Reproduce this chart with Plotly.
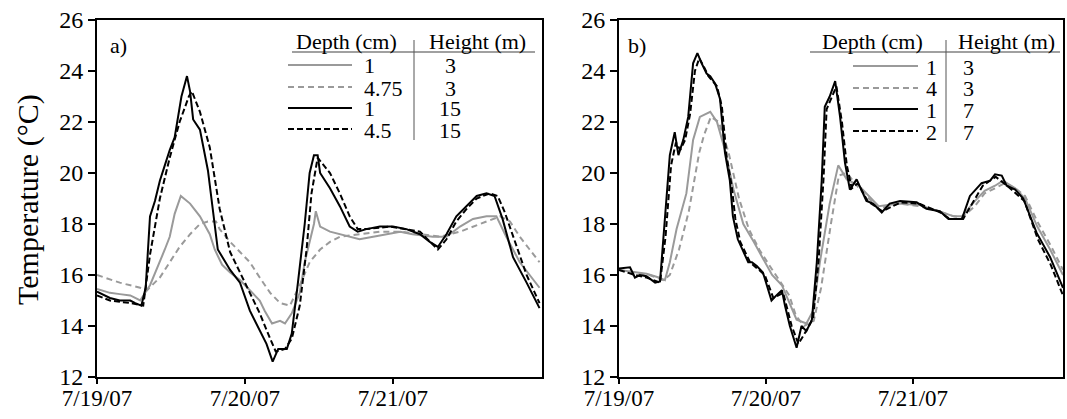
import plotly.graph_objects as go

FONT = "Liberation Serif"
GRAY = "#9a9a9a"
BLACK = "#000000"

# ---------------- Panel a) (hours since 7/19/07 00:00, temperature in °C) ----------------
# Depth 1 cm, height 3 m (gray solid)
a1_t = [0, 2.1, 3.7, 5.4, 6.2, 7.0, 8.6, 10.2, 11.0, 11.8, 12.6, 13.6, 15.1, 16.7, 18.3, 19.1,
        20.3, 21.6, 23.2, 24.8, 26.4, 27.2, 28.4, 29.7, 30.5, 31.6, 32.9, 33.7, 34.5, 35.2, 35.5,
        36.2, 37.8, 39.4, 41.0, 42.6, 44.8, 47.0, 49.2, 51.2, 54.5, 56.7, 58.9, 61.0, 63.2, 64.8,
        66.4, 68.6, 71.8]
a1_T = [15.45, 15.3, 15.25, 15.2, 15.1, 15.0, 15.6, 16.5, 17.0, 17.5, 18.4, 19.1, 18.8, 18.3, 17.6, 17.0,
        16.4, 16.1, 15.8, 15.4, 15.0, 14.6, 14.1, 14.2, 14.1, 14.5, 15.3, 16.5, 17.3, 18.0, 18.5,
        17.9, 17.7, 17.6, 17.5, 17.4, 17.5, 17.6, 17.7, 17.6, 17.5, 17.5, 17.9, 18.2, 18.3, 18.3,
        17.5, 16.5, 15.5]

# Depth 4.75 cm, height 3 m (gray dashed)
a2_t = [0, 3.7, 7.0, 8.1, 10.2, 11.8, 13.4, 15.1, 16.7, 18.0, 19.3, 19.9, 21.6, 23.2, 24.8, 26.4,
        28.1, 29.7, 31.3, 32.9, 34.5, 36.2, 37.8, 39.4, 42.6, 45.9, 49.2, 52.4, 55.7, 58.9, 62.1,
        65.4, 67.0, 68.6, 70.2, 71.8]
a2_T = [16.0, 15.7, 15.5, 15.4, 15.9, 16.5, 17.1, 17.6, 18.0, 18.1, 18.1, 17.8, 17.3, 16.9, 16.5, 15.9,
        15.3, 14.9, 14.8, 15.6, 16.5, 17.0, 17.3, 17.5, 17.6, 17.7, 17.7, 17.6, 17.5, 17.7, 18.0,
        18.3, 18.1, 17.5, 17.0, 16.5]

# Depth 1 cm, height 15 m (black solid)
a3_t = [0, 2.1, 3.7, 5.4, 6.2, 7.2, 7.9, 8.6, 9.4, 10.2, 11.0, 11.8, 12.6, 13.7, 14.6, 15.1, 15.6,
        16.7, 18.0, 18.8, 19.6, 21.6, 23.2, 24.8, 26.4, 27.5, 28.5, 29.4, 30.8, 31.6, 32.6, 33.7,
        34.5, 35.2, 35.8, 36.2, 37.8, 39.4, 41.0, 42.3, 43.7, 45.9, 48.0, 50.2, 52.4, 54.0, 55.3,
        56.7, 58.3, 60.0, 61.6, 63.2, 64.5, 65.8, 67.5, 69.7, 71.8]
a3_T = [15.35, 15.1, 15.0, 15.0, 14.9, 14.8, 15.5, 18.3, 18.9, 19.7, 20.3, 20.9, 21.4, 23.0, 23.8, 23.2, 22.1,
        21.7, 20.1, 18.5, 17.0, 16.2, 15.7, 14.6, 13.8, 13.3, 12.6, 13.1, 13.1, 13.7, 15.7, 18.0,
        20.0, 20.7, 20.7, 20.0, 19.4, 18.7, 17.9, 17.7, 17.8, 17.9, 17.9, 17.8, 17.6, 17.3, 17.1,
        17.6, 18.3, 18.7, 19.1, 19.2, 19.1, 18.2, 16.7, 15.7, 14.7]

# Depth 4.5 cm, height 15 m (black dashed)
a4_t = [0, 2.1, 3.7, 5.4, 7.5, 8.6, 10.2, 11.8, 13.4, 14.9, 15.4, 16.7, 18.3, 19.9, 21.6, 23.2,
        24.8, 26.4, 28.1, 29.0, 30.5, 31.6, 32.9, 34.0, 34.8, 35.8, 37.8, 39.4, 41.0, 42.3, 43.7,
        47.6, 52.4, 54.0, 55.3, 56.7, 58.3, 60.0, 61.6, 63.7, 65.0, 66.1, 67.8, 69.7, 71.8]
a4_T = [15.2, 15.0, 14.95, 14.9, 14.8, 16.8, 19.0, 20.6, 22.0, 23.0, 23.2, 22.4, 21.0, 18.6, 16.9, 16.1,
        15.3, 14.5, 13.5, 13.0, 13.1, 13.5, 14.8, 17.0, 19.2, 20.6, 20.0, 19.2, 18.3, 17.8, 17.8,
        17.9, 17.7, 17.3, 17.0, 17.4, 18.1, 18.6, 19.0, 19.2, 19.1, 18.5, 17.3, 16.0, 14.9]

# ---------------- Panel b) ----------------
# Depth 1 cm, height 3 m (gray solid)
b1_t = [0, 2.6, 4.5, 6.5, 7.5, 8.3, 9.4, 11.0, 12.1, 13.2, 14.9, 16.0, 17.3, 18.7, 20.3, 22.0,
        23.6, 25.0, 26.6, 27.9, 29.0, 30.6, 31.7, 32.8, 34.4, 35.8, 37.2, 39.2, 42.4, 45.7, 49.0,
        52.2, 54.7, 56.0, 58.1, 59.7, 61.4, 62.7, 64.7, 66.3, 68.3, 70.4, 72.5]
b1_T = [16.2, 16.1, 16.05, 15.9, 15.8, 16.5, 17.8, 19.2, 21.3, 22.2, 22.4, 22.0, 20.9, 19.35, 18.0, 17.3,
        16.6, 16.0, 15.6, 14.9, 14.25, 14.1, 14.6, 16.5, 18.8, 20.3, 19.75, 19.5, 18.7, 18.8, 18.75,
        18.5, 18.3, 18.3, 18.9, 19.3, 19.5, 19.7, 19.4, 19.0, 17.9, 17.0, 16.0]

# Depth 4 cm, height 3 m (gray dashed)
b2_t = [0, 2.6, 5.0, 7.2, 8.3, 9.8, 11.4, 13.1, 13.9, 15.0, 16.3, 17.9, 19.6, 21.2, 22.9, 24.5,
        26.1, 27.8, 28.9, 30.2, 31.8, 33.0, 34.6, 35.9, 37.2, 39.2, 42.4, 45.7, 49.0, 52.2, 54.7,
        56.0, 58.1, 59.7, 61.4, 63.0, 64.7, 66.3, 68.3, 70.4, 72.5]
b2_T = [16.2, 16.1, 16.0, 15.8, 16.0, 17.0, 18.5, 20.8, 21.5, 22.2, 22.0, 20.8, 19.0, 17.8, 17.0, 16.4,
        15.8, 15.2, 14.4, 14.0, 14.2, 15.5, 18.0, 19.9, 20.0, 19.4, 18.6, 18.8, 18.7, 18.5, 18.3,
        18.25, 18.7, 19.2, 19.4, 19.6, 19.4, 19.1, 18.1, 17.2, 16.2]

# Depth 1 cm, height 7 m (black solid)
b3_t = [0, 1.3, 1.8, 2.6, 3.4, 4.5, 5.9, 6.7, 7.5, 8.3, 9.1, 9.7, 10.5, 11.3, 12.1, 12.8, 13.5,
        14.3, 14.9, 15.7, 16.5, 17.3, 18.1, 18.6, 19.4, 20.2, 21.1, 21.7, 22.5, 23.5, 24.1, 24.9,
        25.7, 26.6, 27.1, 27.9, 29.0, 29.8, 30.6, 31.5, 32.3, 33.1, 33.6, 34.4, 35.3, 36.1, 36.9,
        37.7, 38.8, 40.4, 41.5, 42.9, 44.2, 45.9, 48.6, 50.2, 52.4, 53.8, 56.0, 57.3, 59.2, 60.6,
        61.4, 62.5, 63.3, 64.7, 66.0, 68.2, 70.4, 72.5]
b3_T = [16.25, 16.3, 16.3, 15.9, 16.0, 15.95, 15.7, 15.75, 18.05, 20.7, 21.6, 20.7, 21.3, 22.2, 24.3, 24.7, 24.3,
        23.9, 23.8, 23.5, 22.9, 20.8, 19.7, 18.3, 17.4, 17.0, 16.5, 16.5, 16.35, 16.1, 15.6, 15.0,
        15.2, 15.4, 14.8, 14.0, 13.15, 14.0, 13.8, 14.25, 16.5, 19.7, 22.6, 23.0, 23.6, 22.2, 20.4,
        19.35, 19.75, 18.9, 18.8, 18.45, 18.8, 18.9, 18.85, 18.6, 18.5, 18.2, 18.2, 19.1, 19.6, 19.7,
        19.95, 19.9, 19.5, 19.35, 19.0, 17.65, 16.7, 15.5]

# Depth 2 cm, height 7 m (black dashed)
b4_t = [0, 2.6, 4.5, 6.7, 7.6, 8.5, 9.3, 10.0, 10.8, 11.6, 12.4, 13.1, 13.8, 14.6, 16.0, 16.8,
        17.6, 18.4, 19.0, 19.8, 21.4, 23.8, 25.2, 26.8, 28.2, 29.3, 30.8, 31.7, 32.6, 33.4, 33.9,
        35.5, 36.4, 37.2, 38.0, 39.0, 40.6, 43.0, 46.0, 49.0, 52.5, 54.0, 56.2, 59.4, 61.5, 63.4,
        66.2, 68.4, 70.5, 72.5]
b4_T = [16.2, 16.0, 15.9, 15.7, 17.5, 20.3, 21.2, 20.9, 21.3, 22.3, 24.0, 24.5, 24.2, 23.8, 23.4, 22.6,
        20.6, 19.5, 18.2, 17.3, 16.5, 16.0, 15.1, 15.3, 14.0, 13.3, 13.9, 14.3, 16.6, 19.8, 22.5,
        23.4, 22.0, 20.3, 19.4, 19.6, 18.9, 18.5, 18.85, 18.8, 18.45, 18.2, 18.2, 19.5, 19.85, 19.5,
        18.9, 17.4, 16.4, 15.2]

# Legend table contents
depth_a = ["1", "4.75", "1", "4.5"]
height_a = ["3", "3", "15", "15"]
depth_b = ["1", "4", "1", "2"]
height_b = ["3", "3", "7", "7"]
x_tickvals = [0, 24, 48]
x_ticktext = ["7/19/07", "7/20/07", "7/21/07"]
y_tickvals = [12, 14, 16, 18, 20, 22, 24, 26]

styles = [(GRAY, "solid"), (GRAY, "6px,4px"), (BLACK, "solid"), (BLACK, "6px,3px")]

W, H = 1067, 419
def px(x):
    return x / W
def py(y):
    return 1 - y / H

fig = go.Figure()
for (t, T), (c, d) in zip([(a1_t, a1_T), (a2_t, a2_T), (a3_t, a3_T), (a4_t, a4_T)], styles):
    fig.add_trace(go.Scatter(x=t, y=T, mode="lines", line=dict(color=c, width=2, dash=d),
                             xaxis="x", yaxis="y", showlegend=False))
for (t, T), (c, d) in zip([(b1_t, b1_T), (b2_t, b2_T), (b3_t, b3_T), (b4_t, b4_T)], styles):
    fig.add_trace(go.Scatter(x=t, y=T, mode="lines", line=dict(color=c, width=2, dash=d),
                             xaxis="x2", yaxis="y2", showlegend=False))

xcommon = dict(tickvals=x_tickvals, ticktext=x_ticktext, ticks="outside", ticklen=5, tickwidth=1.5,
               tickcolor="black", showline=True, linecolor="black", linewidth=2, mirror=True,
               showgrid=False, zeroline=False, automargin=False, ticklabelstandoff=-6,
               tickfont=dict(family=FONT, size=23, color="black"))
ycommon = dict(range=[12, 26], tickvals=y_tickvals, ticks="outside", ticklen=7, tickwidth=1.5,
               tickcolor="black", showline=True, linecolor="black", linewidth=2, mirror=True,
               showgrid=False, zeroline=False, automargin=False,
               tickfont=dict(family=FONT, size=24, color="black"))

fig.update_layout(
    template="none",
    width=W, height=H, autosize=False,
    margin=dict(l=0, r=0, t=0, b=0, pad=0),
    paper_bgcolor="white", plot_bgcolor="white",
    xaxis=dict(domain=[px(97), px(542)], range=[0, 72.2], anchor="y", **xcommon),
    yaxis=dict(domain=[py(377), py(20)], anchor="x", **ycommon),
    xaxis2=dict(domain=[px(619), px(1063)], range=[0, 72.5], anchor="y2", **xcommon),
    yaxis2=dict(domain=[py(377), py(20)], anchor="x2", **ycommon),
)

ann = []
shapes = []
tf = dict(family=FONT, size=22, color="black")

def text(s, x, y, xa="center", font=tf, **kw):
    ann.append(dict(text=s, x=px(x), y=py(y), xref="paper", yref="paper", xanchor=xa,
                    yanchor="middle", showarrow=False, font=font, borderpad=0, **kw))

# Y title
text("Temperature (°C)", 28, 200, font=dict(family=FONT, size=30, color="black"), textangle=-90)
# panel labels
text("a)", 109, 45, xa="left")
text("b)", 627, 45, xa="left")

def table(hdr_depth_x, hdr_height_x, rule_x0, rule_x1, vline_x, line_x0, line_x1,
          depth_x, depth_anchor, height_x, rows_y, depths, heights):
    text("Depth (cm)", hdr_depth_x, 41)
    text("Height (m)", hdr_height_x, 41)
    shapes.append(dict(type="line", xref="paper", yref="paper", x0=px(rule_x0), x1=px(rule_x1),
                       y0=py(52), y1=py(52), line=dict(color="#808080", width=1.5)))
    shapes.append(dict(type="line", xref="paper", yref="paper", x0=px(vline_x), x1=px(vline_x),
                       y0=py(40), y1=py(rows_y[-1] + 11), line=dict(color="#555555", width=1)))
    for (c, d), yy, dep, hei in zip(styles, rows_y, depths, heights):
        shapes.append(dict(type="line", xref="paper", yref="paper", x0=px(line_x0), x1=px(line_x1),
                           y0=py(yy), y1=py(yy), line=dict(color=c, width=2, dash=d)))
        text(dep, depth_x, yy + 1, xa=depth_anchor)
        text(hei, height_x, yy + 1)

table(346, 477, 292, 535, 414, 288, 352, 363, "left", 450, [65, 87, 108, 129], depth_a, height_a)
table(872, 1006, 810, 1060, 946, 853, 918, 938, "right", 968, [66, 88, 109, 131], depth_b, height_b)

fig.update_layout(annotations=ann, shapes=shapes)
fig.write_html("out.html")
